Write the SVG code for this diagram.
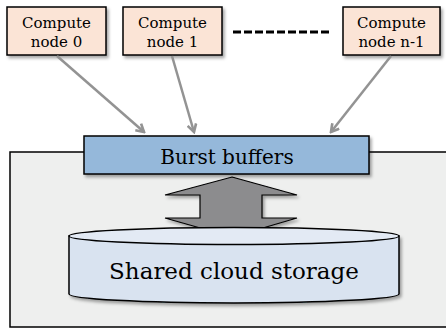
<svg xmlns="http://www.w3.org/2000/svg" width="446" height="329" viewBox="0 0 446 329">
<style>
.node{fill:#fbe4d6;stroke:#000;stroke-width:1.5}
.lbl{font-family:"DejaVu Serif","Liberation Serif",serif;fill:#000;text-anchor:middle}
.conn{stroke:#939393;stroke-width:2.5;fill:none;marker-end:url(#chev)}
</style>
<defs>
<filter id="sh" x="-10%" y="-10%" width="130%" height="140%">
<feDropShadow dx="2" dy="2.5" stdDeviation="1.5" flood-color="#000" flood-opacity="0.35"/>
</filter>
<marker id="chev" viewBox="0 0 10 10" refX="8.5" refY="5" markerWidth="4.4" markerHeight="4.4" orient="auto" markerUnits="strokeWidth">
<path d="M1.5,1 L8.5,5 L1.5,9" fill="none" stroke="#939393" stroke-width="2.4" stroke-linejoin="miter"/>
</marker>
</defs>
<rect width="446" height="329" fill="#fff"/>
<g id="cloud-region">
<rect x="10" y="152" width="445" height="175" fill="#eeefee" stroke="#000" stroke-width="1.5"/>
</g>
<g id="compute0">
<rect class="node" x="7" y="7" width="99" height="48" filter="url(#sh)"/>
<text class="lbl" x="56.5" y="28" font-size="15">Compute</text>
<text class="lbl" x="56.5" y="47" font-size="15">node 0</text>
</g>
<g id="compute1">
<rect class="node" x="123" y="7" width="99" height="48" filter="url(#sh)"/>
<text class="lbl" x="172.5" y="28" font-size="15">Compute</text>
<text class="lbl" x="172.5" y="47" font-size="15">node 1</text>
</g>
<g id="ellipsis">
<line x1="233" y1="32" x2="331" y2="32" stroke="#000" stroke-width="3" stroke-dasharray="8,3"/>
</g>
<g id="computeN">
<rect class="node" x="343" y="7" width="97" height="48" filter="url(#sh)"/>
<text class="lbl" x="391.5" y="28" font-size="15">Compute</text>
<text class="lbl" x="391.5" y="47" font-size="15">node n-1</text>
</g>
<g id="connectors">
<line class="conn" x1="57" y1="56" x2="144" y2="132"/>
<line class="conn" x1="172" y1="56" x2="194" y2="132"/>
<line class="conn" x1="391" y1="56" x2="331" y2="132"/>
</g>
<g id="burst-buffers">
<rect x="84" y="136" width="285" height="38" fill="#95b8da" stroke="#000" stroke-width="1.5" filter="url(#sh)"/>
<text class="lbl" x="227" y="164" font-size="20">Burst buffers</text>
</g>
<g id="double-arrow">
<path d="M232,177 L297,195 L262,195 L262,218 L297,218 L232,237 L165,218 L200,218 L200,195 L165,195 Z" fill="#8c8c8e" stroke="#000" stroke-width="1.2" filter="url(#sh)"/>
</g>
<g id="shared-storage">
<path d="M69,236 L69,294 A165,9 0 0 0 399,294 L399,236 Z" fill="#d9e3f0" stroke="#000" stroke-width="1.5" filter="url(#sh)"/>
<ellipse cx="234" cy="236" rx="165" ry="8.5" fill="#e3eaf4" stroke="#000" stroke-width="1.5"/>
<text class="lbl" x="234" y="279" font-size="23">Shared cloud storage</text>
</g>
</svg>
